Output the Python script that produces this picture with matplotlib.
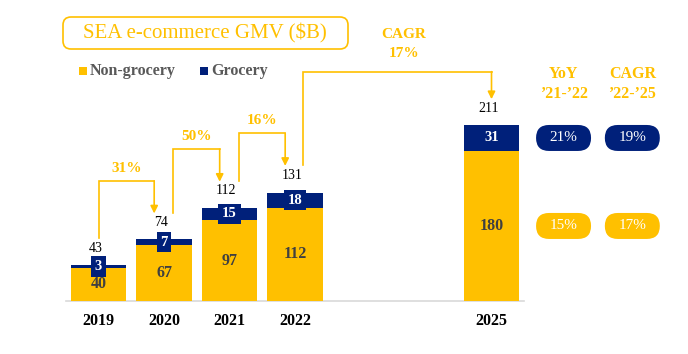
import matplotlib
matplotlib.use('Agg')
import matplotlib.pyplot as plt
from matplotlib.patches import FancyBboxPatch, Rectangle
from matplotlib.transforms import ScaledTranslation

# Data
years = ['2019', '2020', '2021', '2022', '2025']
non_grocery = [40, 67, 97, 112, 180]
grocery = [3, 7, 15, 18, 31]
totals = [43, 74, 112, 131, 211]
yoy_growth = ['31%', '50%', '16%']
cagr_19_25 = '17%'
pill_headers = ['YoY\n\u201921-\u201922', 'CAGR\n\u201922-\u201925']
pill_grocery = ['21%', '19%']
pill_non_grocery = ['15%', '17%']

yellow = '#FFC000'
navy = '#00207A'
plt.rcParams['font.family'] = ['Liberation Serif', 'DejaVu Serif']

fig = plt.figure(figsize=(6.88, 3.54), dpi=100)
ax = fig.add_axes([0, 0, 1, 1])
ax.axis('off')

x = [int(y) - 2019 for y in years]
width = 0.84

ax.bar(x, non_grocery, width=width, color=yellow, zorder=2)
ax.bar(x, grocery, width=width, bottom=non_grocery, color=navy, zorder=2)
ax.plot([-0.5, 6.5], [0, 0], color='#D9D9D9', lw=1.2, zorder=1)

for xi, ng, g, tot, yr in zip(x, non_grocery, grocery, totals, years):
    ax.text(xi, ng / 2, str(ng), ha='center', va='center', fontsize=11.5,
            fontweight='bold', color='#404040', zorder=3)
    ax.text(xi, ng + g / 2, str(g), ha='center', va='center', fontsize=10.5,
            fontweight='bold', color='white', zorder=4,
            bbox=dict(boxstyle='square,pad=0.25', fc=navy, ec='none'))
    ax.text(xi - 0.05, tot + 20, str(tot), ha='center', va='center', fontsize=10, color='black')
    ax.text(xi, -24, yr, ha='center', va='center', fontsize=11.5, fontweight='bold', color='black')


# elbow arrows between bars
def elbow(i, j, label, rise, start_off, end_off, cagr=False):
    x1 = x[i] + start_off
    x2 = x[j] + end_off
    yb = totals[i] + 32
    yh = totals[j] + rise
    tip = totals[j] + 31
    ax.plot([x1, x1, x2], [yb, yh, yh], color=yellow, lw=1.2, solid_joinstyle='miter')
    ax.annotate('', xy=(x2, tip), xytext=(x2, yh),
                arrowprops=dict(arrowstyle='-|>', color=yellow, lw=1.2,
                                mutation_scale=11, shrinkA=0, shrinkB=0))
    xm = (x1 + x2) / 2
    if cagr:
        ax.text(xm + 0.1, yh + 22, label, ha='center', va='center', fontsize=11,
                fontweight='bold', color=yellow)
        ax.text(xm + 0.1, yh + 44, 'CAGR', ha='center', va='center', fontsize=11,
                fontweight='bold', color=yellow)
    else:
        ax.text(xm, yh + 15, label, ha='center', va='center', fontsize=11,
                fontweight='bold', color=yellow)


for k, lab in enumerate(yoy_growth):
    elbow(k, k + 1, lab, 70, 0.0 if k == 0 else 0.14, -0.15)
elbow(3, 4, cagr_19_25, 64, 0.12, 0.0, cagr=True)

# pills on the right
pill_x = [7.1, 8.15]
pill_w, pill_h = 0.55, 0.26
seg_g = non_grocery[-1] + grocery[-1] / 2
seg_ng = non_grocery[-1] / 2
for px, head, pg, png in zip(pill_x, pill_headers, pill_grocery, pill_non_grocery):
    ax.text(px, 260, head, ha='center', va='center', fontsize=11.5, fontweight='bold',
            color=yellow, linespacing=1.35)
    for yv, txt, col in [(seg_g, pg, navy), (seg_ng, png, yellow)]:
        tr = fig.dpi_scale_trans + ScaledTranslation(px, yv, ax.transData)
        p = FancyBboxPatch((-pill_w / 2, -pill_h / 2), pill_w, pill_h,
                           boxstyle=f'round,pad=0,rounding_size={pill_h / 2}',
                           fc=col, ec='none', transform=tr, clip_on=False)
        ax.add_artist(p)
        ax.text(px, yv, txt, ha='center', va='center', fontsize=11, color='white')

# title box
fig.add_artist(FancyBboxPatch((0.63, 3.05), 2.85, 0.32,
                              boxstyle='round,pad=0,rounding_size=0.08',
                              fc='white', ec=yellow, lw=1.2,
                              transform=fig.dpi_scale_trans))
fig.text(2.05 / 6.88, 3.21 / 3.54, 'SEA e-commerce GMV ($B)', ha='center', va='center',
         fontsize=15, color=yellow)

# legend
for lx, col, lab in [(0.79, yellow, 'Non-grocery'), (2.00, navy, 'Grocery')]:
    fig.add_artist(Rectangle((lx, 2.79), 0.08, 0.075, fc=col, ec='none',
                             transform=fig.dpi_scale_trans))
    fig.text((lx + 0.11) / 6.88, 2.83 / 3.54, lab, ha='left', va='center',
             fontsize=11.5, fontweight='bold', color='#595959')

ax.set_xlim(-1.504, 9.0)
ax.set_ylim(-63.5, 360.9)

fig.savefig('out.png', dpi=100)
